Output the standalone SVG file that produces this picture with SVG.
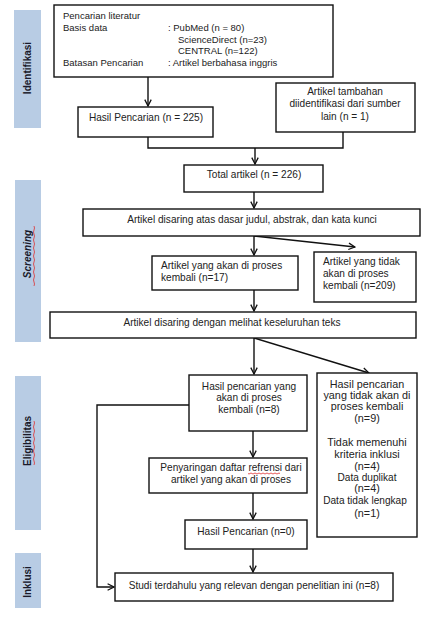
<svg xmlns="http://www.w3.org/2000/svg" width="430" height="618" viewBox="0 0 430 618">
<style>
.bx{fill:#fff;stroke:#111;stroke-width:1.4}
.sb{fill:#b8cce4}
.t{font-family:"Liberation Sans",Arial,sans-serif;font-size:10.1px;fill:#222}
.tp{font-size:9.5px}
.r{font-size:10.8px}
.c{text-anchor:middle}
.st{font-family:"Liberation Sans",Arial,sans-serif;font-size:10px;font-weight:bold;fill:#1a1a2a;text-anchor:middle}
.ln{fill:none;stroke:#111;stroke-width:1.4}
.sq{fill:none;stroke:#e03030;stroke-width:0.8}
</style>
<defs>
<marker id="ah" viewBox="0 0 10 10" refX="9" refY="5" markerWidth="8" markerHeight="8" markerUnits="userSpaceOnUse" orient="auto">
<path d="M1,1 L9,5 L1,9" fill="none" stroke="#111" stroke-width="1.6"/>
</marker>
</defs>
<rect width="430" height="618" fill="#fff"/>

<g id="stage-identifikasi">
<rect class="sb" x="14" y="10" width="27" height="118"/>
<text class="st" transform="translate(31,68) rotate(-90)">Identifikasi</text>
</g>
<g id="stage-screening">
<rect class="sb" x="15" y="180" width="26" height="162"/>
<text class="st" font-style="italic" transform="translate(31,254) rotate(-90)">Screening</text>
<path class="sq" d="M34,226 q1,2 0,4 t0,4 t0,4 t0,4 t0,4 t0,4 t0,4 t0,4 t0,4 t0,4 t0,4 t0,4 t0,4 t0,4 t0,4"/>
</g>
<g id="stage-eligibilitas">
<rect class="sb" x="15" y="376" width="26" height="154"/>
<text class="st" transform="translate(31,441) rotate(-90)">Eligibilitas</text>
<path class="sq" d="M34,421 q1,2 0,4 t0,4 t0,4 t0,4 t0,4 t0,4 t0,4 t0,4 t0,4 t0,4 t0,4"/>
</g>
<g id="stage-inklusi">
<rect class="sb" x="15" y="553" width="26" height="55"/>
<text class="st" transform="translate(31,582) rotate(-90)">Inklusi</text>
</g>

<g id="connectors">
<path class="ln" d="M148,77 V106" marker-end="url(#ah)"/>
<path class="ln" d="M148,137 V148 H343 V132"/>
<path class="ln" d="M255,148 V164" marker-end="url(#ah)"/>
<path class="ln" d="M254,192 V208" marker-end="url(#ah)"/>
<path class="ln" d="M254,236 V255" marker-end="url(#ah)"/>
<path class="ln" d="M254,236 L355,247" marker-end="url(#ah)"/>
<path class="ln" d="M254,290 V311" marker-end="url(#ah)"/>
<path class="ln" d="M254,338 V374" marker-end="url(#ah)"/>
<path class="ln" d="M254,338 L369,373" marker-end="url(#ah)"/>
<path class="ln" d="M253,431 V457" marker-end="url(#ah)"/>
<path class="ln" d="M253,493 V519" marker-end="url(#ah)"/>
<path class="ln" d="M253,549 V572" marker-end="url(#ah)"/>
<path class="ln" d="M189,405 H97 V587 H114" marker-end="url(#ah)"/>
</g>

<g id="n-pencarian">
<rect class="bx" x="54" y="5" width="279" height="72"/>
<text class="t tp" x="63" y="19">Pencarian literatur</text>
<text class="t tp" x="63" y="31">Basis data</text>
<text class="t tp" x="168" y="31">: PubMed (n = 80)</text>
<text class="t tp" x="178" y="43">ScienceDirect (n=23)</text>
<text class="t tp" x="178" y="54">CENTRAL (n=122)</text>
<text class="t tp" x="63" y="66">Batasan Pencarian</text>
<text class="t tp" x="168" y="66">: Artikel berbahasa inggris</text>
</g>
<g id="n-hasil225">
<rect class="bx" x="78" y="107" width="135" height="30"/>
<text class="t c" x="146" y="121">Hasil Pencarian (n = 225)</text>
</g>
<g id="n-tambahan">
<rect class="bx" x="276" y="83" width="139" height="49"/>
<text class="t c" x="345" y="95">Artikel  tambahan</text>
<text class="t c" x="345" y="107">diidentifikasi dari sumber</text>
<text class="t c" x="345" y="120">lain (n = 1)</text>
</g>
<g id="n-total">
<rect class="bx" x="184" y="165" width="139" height="27"/>
<text class="t c" x="254" y="178">Total artikel (n = 226)</text>
</g>
<g id="n-disaring1">
<rect class="bx" x="83" y="209" width="337" height="27"/>
<text class="t c" x="252" y="223">Artikel disaring atas dasar judul, abstrak, dan kata kunci</text>
</g>
<g id="n-akan17">
<rect class="bx" x="152" y="256" width="146" height="34"/>
<text class="t" x="161" y="269">Artikel yang akan di proses</text>
<text class="t" x="161" y="281">kembali (n=17)</text>
</g>
<g id="n-tidak209">
<rect class="bx" x="314" y="252" width="102" height="50"/>
<text class="t" x="323" y="265">Artikel yang tidak</text>
<text class="t" x="323" y="277">akan di proses</text>
<text class="t" x="323" y="289">kembali (n=209)</text>
</g>
<g id="n-disaring2">
<rect class="bx" x="50" y="312" width="366" height="26"/>
<text class="t c" x="232" y="326">Artikel disaring dengan melihat keseluruhan teks</text>
</g>
<g id="n-hasil8">
<rect class="bx" x="189" y="375" width="118" height="56"/>
<text class="t c" x="249" y="390">Hasil pencarian yang</text>
<text class="t c" x="249" y="401">akan di proses</text>
<text class="t c" x="249" y="413">kembali (n=8)</text>
</g>
<g id="n-tidak9">
<rect class="bx" x="317" y="373" width="100" height="164"/>
<text class="t r c" x="367" y="388">Hasil pencarian</text>
<text class="t r c" x="367" y="399">yang tidak akan di</text>
<text class="t r c" x="367" y="410">proses kembali</text>
<text class="t r c" x="367" y="422">(n=9)</text>
<text class="t r c" x="367" y="446">Tidak memenuhi</text>
<text class="t r c" x="367" y="458">kriteria inklusi</text>
<text class="t r c" x="367" y="470">(n=4)</text>
<text class="t c" x="367" y="481" font-size="11.5px">Data duplikat</text>
<text class="t r c" x="367" y="492">(n=4)</text>
<text class="t c" x="365" y="504" font-size="11.5px">Data tidak lengkap</text>
<text class="t r c" x="367" y="517">(n=1)</text>
</g>
<g id="n-penyaringan">
<rect class="bx" x="149" y="458" width="158" height="35"/>
<text class="t c" x="231" y="471" font-size="8.5px">Penyaringan daftar refrensi dari</text>
<text class="t c" x="231" y="483" font-size="8.5px">artikel yang akan di proses</text>
<path class="sq" d="M248,473.5 q1,1 2,0 t2,0 t2,0 t2,0 t2,0 t2,0 t2,0 t2,0 t2,0 t2,0 t2,0 t2,0 t2,0 t2,0 t2,0 t2,0"/>
</g>
<g id="n-hasil0">
<rect class="bx" x="185" y="520" width="122" height="29"/>
<text class="t c" x="246" y="535">Hasil Pencarian (n=0)</text>
</g>
<g id="n-studi">
<rect class="bx" x="115" y="573" width="278" height="28"/>
<text class="t c" x="254" y="589">Studi terdahulu yang relevan dengan penelitian ini (n=8)</text>
</g>
</svg>
